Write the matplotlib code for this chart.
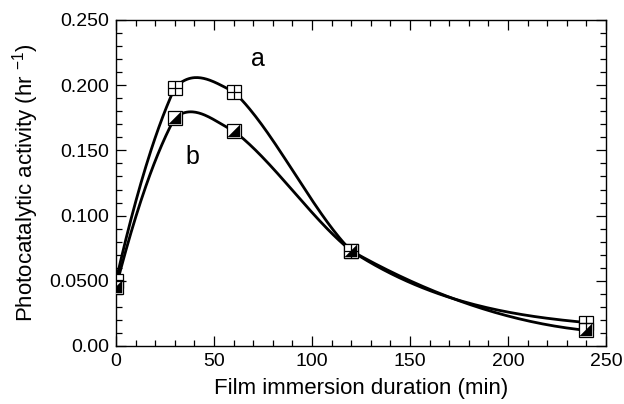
import numpy as np
import matplotlib
matplotlib.use("Agg")
import matplotlib.pyplot as plt
from matplotlib.path import Path

plt.rcParams['font.family'] = ['Liberation Sans', 'DejaVu Sans']

x_min = [0, 30, 60, 120, 240]
series_a = [0.050, 0.198, 0.195, 0.073, 0.018]
series_b = [0.045, 0.175, 0.165, 0.073, 0.012]
x_ticks = [0, 50, 100, 150, 200, 250]
y_ticks = [0.0, 0.05, 0.10, 0.15, 0.20, 0.25]
y_tick_labels = ['0.00', '0.0500', '0.100', '0.150', '0.200', '0.250']


def smooth_curve(x, y, w=0.33, end_frac=0.3, n=60):
    """Cubic Hermite curve through the points with blended one-sided tangents."""
    x = np.asarray(x, float); y = np.asarray(y, float)
    h = np.diff(x); s = np.diff(y) / h
    k = len(x)
    m_in = np.zeros(k); m_out = np.zeros(k)
    for i in range(1, k - 1):
        m_in[i] = (1 - w) * s[i - 1] + w * s[i]
        m_out[i] = w * s[i - 1] + (1 - w) * s[i]
    m_out[0] = 2 * s[0] - m_in[1]
    if np.sign(m_out[0]) != np.sign(s[0]):
        m_out[0] = 0.0
    m_in[-1] = end_frac * s[-1]
    xs_all, ys_all = [], []
    for i in range(k - 1):
        t = np.linspace(0, 1, n)
        h00 = 2 * t**3 - 3 * t**2 + 1
        h10 = t**3 - 2 * t**2 + t
        h01 = -2 * t**3 + 3 * t**2
        h11 = t**3 - t**2
        xs_all.append(x[i] + t * h[i])
        ys_all.append(h00 * y[i] + h10 * h[i] * m_out[i] + h01 * y[i + 1] + h11 * h[i] * m_in[i + 1])
    return np.concatenate(xs_all), np.concatenate(ys_all)


fig = plt.figure(figsize=(6.24, 4.04), dpi=100)
ax = fig.add_axes([116 / 624, 1 - 346 / 404, 490 / 624, 326 / 404])

for ys in (series_a, series_b):
    sx, sy = smooth_curve(x_min, ys)
    ax.plot(sx, sy, color='black', lw=2.0, zorder=2, solid_capstyle='round', solid_joinstyle='round')

ms = 10
# series a: square with cross
ax.plot(x_min, series_a, ls='none', marker='s', ms=ms, mfc='white', mec='black', mew=0.9, zorder=3)
ax.plot(x_min, series_a, ls='none', marker='+', ms=ms, mec='black', mew=0.9, zorder=4)
# series b: square with lower-right black triangle
tri = Path([(-1, -1), (1, -1), (1, 1), (-1, -1)], [Path.MOVETO, Path.LINETO, Path.LINETO, Path.CLOSEPOLY])
ax.plot(x_min, series_b, ls='none', marker='s', ms=ms, mfc='white', mec='black', mew=0.9, zorder=3)
ax.plot(x_min, series_b, ls='none', marker=tri, ms=ms * 0.92, mfc='black', mec='black', mew=0.3, zorder=4)

ax.text(72.5, 0.220, 'a', fontsize=18, ha='center', va='center')
ax.text(39, 0.145, 'b', fontsize=18, ha='center', va='center')

ax.set_xlim(0, 250)
ax.set_ylim(0, 0.25)
ax.set_xticks(x_ticks)
ax.set_xticks(np.arange(0, 251, 10), minor=True)
ax.set_yticks(y_ticks)
ax.set_yticklabels(y_tick_labels)
ax.set_yticks(np.arange(0, 0.2501, 0.01), minor=True)
ax.tick_params(which='both', direction='in', top=True, right=True, labelsize=14, width=0.9)
ax.tick_params(which='major', length=7, pad=5)
ax.tick_params(which='minor', length=4)
for s in ax.spines.values():
    s.set_linewidth(1.0)

ax.set_xlabel('Film immersion duration (min)', fontsize=16, labelpad=6)
ax.set_ylabel('Photocatalytic activity (hr $^{\\mathregular{-1}}$)', fontsize=16, labelpad=6)

fig.savefig('out.png', dpi=100)
